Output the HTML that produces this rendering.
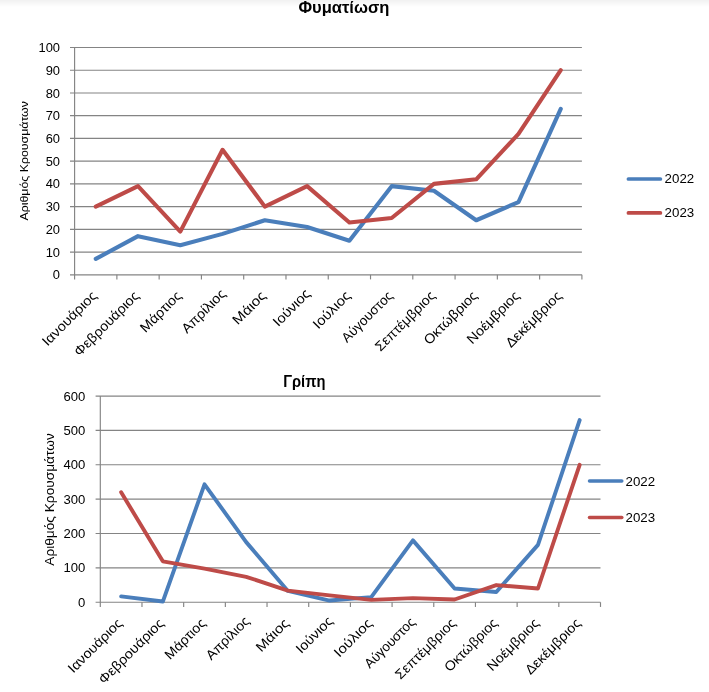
<!DOCTYPE html>
<html lang="el"><head><meta charset="utf-8"><title>Charts</title>
<style>
html,body{margin:0;padding:0;background:#fff;}
body{width:709px;height:692px;overflow:hidden;position:relative;}
.shade{position:absolute;left:0;top:0;width:709px;height:7px;background:linear-gradient(#f1f1f1,#ffffff);}
svg{position:absolute;left:0;top:0;display:block;font-family:"Liberation Sans",sans-serif;}
</style></head><body>
<div class="shade"></div>
<svg width="709" height="692" viewBox="0 0 709 692">
<g id="chart1">
<line x1="70.00" y1="274.80" x2="581.90" y2="274.80" stroke="#848484" stroke-width="1.15"/>
<text x="60.00" y="279.40" font-size="12.9" text-anchor="end" fill="#000">0</text>
<line x1="70.00" y1="252.07" x2="581.90" y2="252.07" stroke="#848484" stroke-width="1.15"/>
<text x="60.00" y="256.67" font-size="12.9" text-anchor="end" fill="#000">10</text>
<line x1="70.00" y1="229.34" x2="581.90" y2="229.34" stroke="#848484" stroke-width="1.15"/>
<text x="60.00" y="233.94" font-size="12.9" text-anchor="end" fill="#000">20</text>
<line x1="70.00" y1="206.61" x2="581.90" y2="206.61" stroke="#848484" stroke-width="1.15"/>
<text x="60.00" y="211.21" font-size="12.9" text-anchor="end" fill="#000">30</text>
<line x1="70.00" y1="183.88" x2="581.90" y2="183.88" stroke="#848484" stroke-width="1.15"/>
<text x="60.00" y="188.48" font-size="12.9" text-anchor="end" fill="#000">40</text>
<line x1="70.00" y1="161.15" x2="581.90" y2="161.15" stroke="#848484" stroke-width="1.15"/>
<text x="60.00" y="165.75" font-size="12.9" text-anchor="end" fill="#000">50</text>
<line x1="70.00" y1="138.42" x2="581.90" y2="138.42" stroke="#848484" stroke-width="1.15"/>
<text x="60.00" y="143.02" font-size="12.9" text-anchor="end" fill="#000">60</text>
<line x1="70.00" y1="115.69" x2="581.90" y2="115.69" stroke="#848484" stroke-width="1.15"/>
<text x="60.00" y="120.29" font-size="12.9" text-anchor="end" fill="#000">70</text>
<line x1="70.00" y1="92.96" x2="581.90" y2="92.96" stroke="#848484" stroke-width="1.15"/>
<text x="60.00" y="97.56" font-size="12.9" text-anchor="end" fill="#000">80</text>
<line x1="70.00" y1="70.23" x2="581.90" y2="70.23" stroke="#848484" stroke-width="1.15"/>
<text x="60.00" y="74.83" font-size="12.9" text-anchor="end" fill="#000">90</text>
<line x1="70.00" y1="47.50" x2="581.90" y2="47.50" stroke="#848484" stroke-width="1.15"/>
<text x="60.00" y="52.10" font-size="12.9" text-anchor="end" fill="#000">100</text>
<line x1="74.60" y1="47.50" x2="74.60" y2="279.40" stroke="#848484" stroke-width="1.15"/>
<line x1="116.88" y1="274.80" x2="116.88" y2="279.40" stroke="#848484" stroke-width="1.15"/>
<line x1="159.15" y1="274.80" x2="159.15" y2="279.40" stroke="#848484" stroke-width="1.15"/>
<line x1="201.42" y1="274.80" x2="201.42" y2="279.40" stroke="#848484" stroke-width="1.15"/>
<line x1="243.70" y1="274.80" x2="243.70" y2="279.40" stroke="#848484" stroke-width="1.15"/>
<line x1="285.98" y1="274.80" x2="285.98" y2="279.40" stroke="#848484" stroke-width="1.15"/>
<line x1="328.25" y1="274.80" x2="328.25" y2="279.40" stroke="#848484" stroke-width="1.15"/>
<line x1="370.52" y1="274.80" x2="370.52" y2="279.40" stroke="#848484" stroke-width="1.15"/>
<line x1="412.80" y1="274.80" x2="412.80" y2="279.40" stroke="#848484" stroke-width="1.15"/>
<line x1="455.07" y1="274.80" x2="455.07" y2="279.40" stroke="#848484" stroke-width="1.15"/>
<line x1="497.35" y1="274.80" x2="497.35" y2="279.40" stroke="#848484" stroke-width="1.15"/>
<line x1="539.62" y1="274.80" x2="539.62" y2="279.40" stroke="#848484" stroke-width="1.15"/>
<line x1="581.90" y1="274.80" x2="581.90" y2="279.40" stroke="#848484" stroke-width="1.15"/>
<polyline points="95.74,258.89 138.01,236.16 180.29,245.25 222.56,233.89 264.84,220.25 307.11,227.07 349.39,240.71 391.66,186.15 433.94,190.70 476.21,220.25 518.49,202.06 560.76,108.87" fill="none" stroke="#4a7ebb" stroke-width="4.1" stroke-linecap="round" stroke-linejoin="round"/>
<polyline points="95.74,206.61 138.01,186.15 180.29,231.61 222.56,149.79 264.84,206.61 307.11,186.15 349.39,222.52 391.66,217.98 433.94,183.88 476.21,179.33 518.49,133.87 560.76,70.23" fill="none" stroke="#be4b48" stroke-width="4.1" stroke-linecap="round" stroke-linejoin="round"/>
<text transform="translate(97.74 296.50) rotate(-45)" font-size="13.6" text-anchor="end" fill="#000" textLength="71.1" lengthAdjust="spacingAndGlyphs">Ιανουάριος</text>
<text transform="translate(140.01 296.50) rotate(-45)" font-size="13.6" text-anchor="end" fill="#000" textLength="85.5" lengthAdjust="spacingAndGlyphs">Φεβρουάριος</text>
<text transform="translate(182.29 296.50) rotate(-45)" font-size="13.6" text-anchor="end" fill="#000" textLength="52.0" lengthAdjust="spacingAndGlyphs">Μάρτιος</text>
<text transform="translate(226.54 294.52) rotate(-45)" font-size="13.6" text-anchor="end" fill="#000" textLength="55.8" lengthAdjust="spacingAndGlyphs">Απρίλιος</text>
<text transform="translate(266.84 296.50) rotate(-45)" font-size="13.6" text-anchor="end" fill="#000" textLength="41.0" lengthAdjust="spacingAndGlyphs">Μάιος</text>
<text transform="translate(311.09 294.52) rotate(-45)" font-size="13.6" text-anchor="end" fill="#000" textLength="46.4" lengthAdjust="spacingAndGlyphs">Ιούνιος</text>
<text transform="translate(351.39 296.50) rotate(-45)" font-size="13.6" text-anchor="end" fill="#000" textLength="47.0" lengthAdjust="spacingAndGlyphs">Ιούλιος</text>
<text transform="translate(393.66 296.50) rotate(-45)" font-size="13.6" text-anchor="end" fill="#000" textLength="66.0" lengthAdjust="spacingAndGlyphs">Αύγουστος</text>
<text transform="translate(435.94 296.50) rotate(-45)" font-size="13.6" text-anchor="end" fill="#000" textLength="78.5" lengthAdjust="spacingAndGlyphs">Σεπτέμβριος</text>
<text transform="translate(478.21 296.50) rotate(-45)" font-size="13.6" text-anchor="end" fill="#000" textLength="69.4" lengthAdjust="spacingAndGlyphs">Οκτώβριος</text>
<text transform="translate(520.49 296.50) rotate(-45)" font-size="13.6" text-anchor="end" fill="#000" textLength="68.2" lengthAdjust="spacingAndGlyphs">Νοέμβριος</text>
<text transform="translate(562.76 296.50) rotate(-45)" font-size="13.6" text-anchor="end" fill="#000" textLength="73.2" lengthAdjust="spacingAndGlyphs">Δεκέμβριος</text>
<text x="343.9" y="12.7" font-size="16" font-weight="bold" text-anchor="middle" fill="#000" textLength="91.0" lengthAdjust="spacingAndGlyphs">Φυματίωση</text>
<text transform="translate(28.3 160.8) rotate(-90)" font-size="11" text-anchor="middle" fill="#000" textLength="119.4" lengthAdjust="spacingAndGlyphs">Αριθμός Κρουσμάτων</text>
<line x1="628.4" y1="179.0" x2="660.4" y2="179.0" stroke="#4a7ebb" stroke-width="3.7" stroke-linecap="round"/>
<text x="664.6" y="183.3" font-size="13.3" fill="#000">2022</text>
<line x1="628.4" y1="212.9" x2="660.4" y2="212.9" stroke="#be4b48" stroke-width="3.7" stroke-linecap="round"/>
<text x="664.6" y="217.2" font-size="13.3" fill="#000">2023</text>
</g>
<g id="chart2">
<line x1="95.60" y1="602.25" x2="600.50" y2="602.25" stroke="#848484" stroke-width="1.15"/>
<text x="85.30" y="606.85" font-size="13.1" text-anchor="end" fill="#000">0</text>
<line x1="95.60" y1="567.88" x2="600.50" y2="567.88" stroke="#848484" stroke-width="1.15"/>
<text x="85.30" y="572.48" font-size="13.1" text-anchor="end" fill="#000">100</text>
<line x1="95.60" y1="533.52" x2="600.50" y2="533.52" stroke="#848484" stroke-width="1.15"/>
<text x="85.30" y="538.12" font-size="13.1" text-anchor="end" fill="#000">200</text>
<line x1="95.60" y1="499.15" x2="600.50" y2="499.15" stroke="#848484" stroke-width="1.15"/>
<text x="85.30" y="503.75" font-size="13.1" text-anchor="end" fill="#000">300</text>
<line x1="95.60" y1="464.78" x2="600.50" y2="464.78" stroke="#848484" stroke-width="1.15"/>
<text x="85.30" y="469.38" font-size="13.1" text-anchor="end" fill="#000">400</text>
<line x1="95.60" y1="430.42" x2="600.50" y2="430.42" stroke="#848484" stroke-width="1.15"/>
<text x="85.30" y="435.02" font-size="13.1" text-anchor="end" fill="#000">500</text>
<line x1="95.60" y1="396.05" x2="600.50" y2="396.05" stroke="#848484" stroke-width="1.15"/>
<text x="85.30" y="400.65" font-size="13.1" text-anchor="end" fill="#000">600</text>
<line x1="100.30" y1="396.05" x2="100.30" y2="606.95" stroke="#848484" stroke-width="1.15"/>
<line x1="141.98" y1="602.25" x2="141.98" y2="606.95" stroke="#848484" stroke-width="1.15"/>
<line x1="183.67" y1="602.25" x2="183.67" y2="606.95" stroke="#848484" stroke-width="1.15"/>
<line x1="225.35" y1="602.25" x2="225.35" y2="606.95" stroke="#848484" stroke-width="1.15"/>
<line x1="267.03" y1="602.25" x2="267.03" y2="606.95" stroke="#848484" stroke-width="1.15"/>
<line x1="308.72" y1="602.25" x2="308.72" y2="606.95" stroke="#848484" stroke-width="1.15"/>
<line x1="350.40" y1="602.25" x2="350.40" y2="606.95" stroke="#848484" stroke-width="1.15"/>
<line x1="392.08" y1="602.25" x2="392.08" y2="606.95" stroke="#848484" stroke-width="1.15"/>
<line x1="433.77" y1="602.25" x2="433.77" y2="606.95" stroke="#848484" stroke-width="1.15"/>
<line x1="475.45" y1="602.25" x2="475.45" y2="606.95" stroke="#848484" stroke-width="1.15"/>
<line x1="517.13" y1="602.25" x2="517.13" y2="606.95" stroke="#848484" stroke-width="1.15"/>
<line x1="558.82" y1="602.25" x2="558.82" y2="606.95" stroke="#848484" stroke-width="1.15"/>
<line x1="600.50" y1="602.25" x2="600.50" y2="606.95" stroke="#848484" stroke-width="1.15"/>
<polyline points="121.14,596.41 162.82,601.56 204.51,484.37 246.19,542.11 287.88,590.91 329.56,600.53 371.24,597.10 412.93,540.39 454.61,588.50 496.29,591.94 537.97,544.86 579.66,420.11" fill="none" stroke="#4a7ebb" stroke-width="3.9" stroke-linecap="round" stroke-linejoin="round"/>
<polyline points="121.14,492.28 162.82,561.35 204.51,568.57 246.19,576.82 287.88,590.57 329.56,595.38 371.24,599.84 412.93,598.13 454.61,599.50 496.29,585.07 537.97,588.50 579.66,464.78" fill="none" stroke="#be4b48" stroke-width="3.9" stroke-linecap="round" stroke-linejoin="round"/>
<text transform="translate(123.14 623.95) rotate(-45)" font-size="13.5" text-anchor="end" fill="#000" textLength="70.4" lengthAdjust="spacingAndGlyphs">Ιανουάριος</text>
<text transform="translate(164.82 623.95) rotate(-45)" font-size="13.5" text-anchor="end" fill="#000" textLength="86.1" lengthAdjust="spacingAndGlyphs">Φεβρουάριος</text>
<text transform="translate(206.51 623.95) rotate(-45)" font-size="13.5" text-anchor="end" fill="#000" textLength="51.5" lengthAdjust="spacingAndGlyphs">Μάρτιος</text>
<text transform="translate(250.31 621.83) rotate(-45)" font-size="13.5" text-anchor="end" fill="#000" textLength="55.2" lengthAdjust="spacingAndGlyphs">Απρίλιος</text>
<text transform="translate(289.88 623.95) rotate(-45)" font-size="13.5" text-anchor="end" fill="#000" textLength="40.6" lengthAdjust="spacingAndGlyphs">Μάιος</text>
<text transform="translate(333.68 621.83) rotate(-45)" font-size="13.5" text-anchor="end" fill="#000" textLength="45.9" lengthAdjust="spacingAndGlyphs">Ιούνιος</text>
<text transform="translate(373.24 623.95) rotate(-45)" font-size="13.5" text-anchor="end" fill="#000" textLength="48.0" lengthAdjust="spacingAndGlyphs">Ιούλιος</text>
<text transform="translate(415.99 622.89) rotate(-45)" font-size="13.5" text-anchor="end" fill="#000" textLength="65.3" lengthAdjust="spacingAndGlyphs">Αύγουστος</text>
<text transform="translate(456.61 623.95) rotate(-45)" font-size="13.5" text-anchor="end" fill="#000" textLength="79.2" lengthAdjust="spacingAndGlyphs">Σεπτέμβριος</text>
<text transform="translate(498.29 623.95) rotate(-45)" font-size="13.5" text-anchor="end" fill="#000" textLength="68.7" lengthAdjust="spacingAndGlyphs">Οκτώβριος</text>
<text transform="translate(539.97 623.95) rotate(-45)" font-size="13.5" text-anchor="end" fill="#000" textLength="67.5" lengthAdjust="spacingAndGlyphs">Νοέμβριος</text>
<text transform="translate(581.66 623.95) rotate(-45)" font-size="13.5" text-anchor="end" fill="#000" textLength="72.5" lengthAdjust="spacingAndGlyphs">Δεκέμβριος</text>
<text x="304.3" y="386.7" font-size="16" font-weight="bold" text-anchor="middle" fill="#000" textLength="42.2" lengthAdjust="spacingAndGlyphs">Γρίπη</text>
<text transform="translate(53.9 499.5) rotate(-90)" font-size="12.2" text-anchor="middle" fill="#000" textLength="132.5" lengthAdjust="spacingAndGlyphs">Αριθμός Κρουσμάτων</text>
<line x1="589.5" y1="481.1" x2="621.8" y2="481.1" stroke="#4a7ebb" stroke-width="3.5" stroke-linecap="round"/>
<text x="625.5" y="485.7" font-size="13.3" fill="#000">2022</text>
<line x1="589.5" y1="517.5" x2="621.8" y2="517.5" stroke="#be4b48" stroke-width="3.5" stroke-linecap="round"/>
<text x="625.5" y="521.8" font-size="13.3" fill="#000">2023</text>
</g>
</svg>
</body></html>
